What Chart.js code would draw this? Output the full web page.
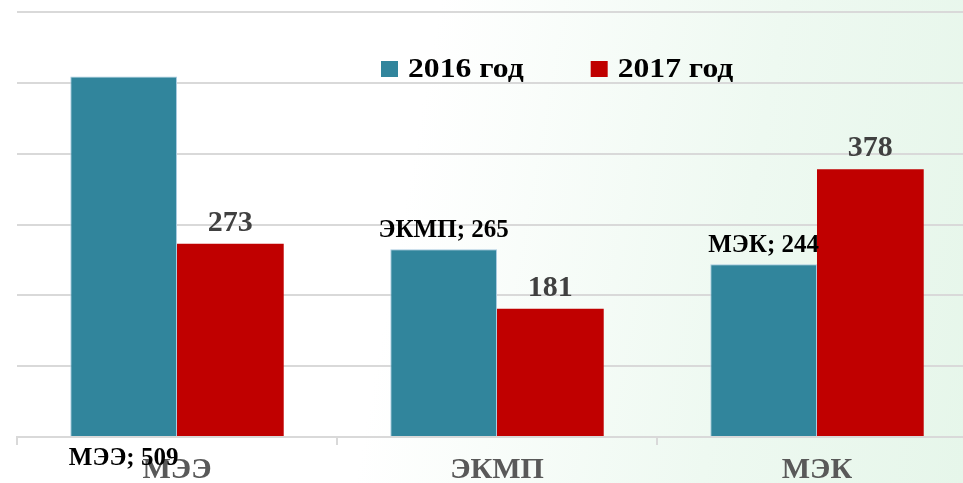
<!DOCTYPE html>
<html lang="ru">
<head>
<meta charset="utf-8">
<title>Экспертизы 2016–2017</title>
<script src="https://cdn.jsdelivr.net/npm/chart.js@4.4.1/dist/chart.umd.min.js"></script>
<style>
  html, body { margin: 0; padding: 0; overflow: hidden; }
  body {
    width: 963px; height: 483px;
    background: linear-gradient(100deg, #ffffff 0%, #ffffff 42%, #eef9f1 75%, #e6f6ea 100%);
  }
  #wrap { position: relative; width: 980px; height: 483px; }
</style>
</head>
<body>
<div id="wrap"><canvas id="myChart"></canvas></div>
<script>
const categories = ['МЭЭ', 'ЭКМП', 'МЭК'];
const seriesNames = ['2016 год', '2017 год'];
const values2016 = [509, 265, 244];
const values2017 = [273, 181, 378];
const yMax = 600;
const yStep = 100;

const serif = '"Liberation Serif", "Times New Roman", serif';

// подписи значений
const barLabels = {
  id: 'barLabels',
  afterDatasetsDraw(chart) {
    const c = chart.ctx;
    const bottom = chart.scales.y.getPixelForValue(0);
    c.save();
    c.textAlign = 'center';
    c.textBaseline = 'alphabetic';
    chart.getDatasetMeta(0).data.forEach((bar, i) => {
      c.font = 'bold 25px ' + serif;
      c.fillStyle = '#000000';
      let y = bar.y - 12;
      if (i === 0) y = bottom + 28; // в оригинале подпись МЭЭ съехала под ось
      c.fillText(categories[i] + '; ' + values2016[i], bar.x, y);
    });
    chart.getDatasetMeta(1).data.forEach((bar, i) => {
      c.font = 'bold 30px ' + serif;
      c.fillStyle = '#404040';
      c.fillText(values2017[i], bar.x, bar.y - 13);
    });
    c.restore();
  }
};

// легенда внутри области графика (шрифт в оригинале чуть растянут)
const topLegend = {
  id: 'topLegend',
  afterDraw(chart) {
    const c = chart.ctx;
    const area = chart.chartArea;
    const stretch = 1.13;
    let x = area.left + 364;
    const y = area.top + 65;
    c.save();
    c.font = 'bold 28px ' + serif;
    c.textBaseline = 'alphabetic';
    chart.data.datasets.forEach(ds => {
      c.fillStyle = ds.backgroundColor;
      c.fillRect(x, y - 16, 17, 16);
      c.save();
      c.translate(x + 27, y);
      c.scale(stretch, 1);
      c.fillStyle = '#000000';
      c.fillText(ds.label, 0, 0);
      c.restore();
      x += 27 + c.measureText(ds.label).width * stretch + 67;
    });
    c.restore();
  }
};

const ctx = document.getElementById('myChart');

new Chart(ctx, {
  type: 'bar',
  data: {
    labels: categories,
    datasets: [{
      label: seriesNames[0],
      data: values2016,
      backgroundColor: '#31859c',
      borderColor: '#a9cbe0',
      borderWidth: 1,
      categoryPercentage: 0.667,
      barPercentage: 1.0
    }, {
      label: seriesNames[1],
      data: values2017,
      backgroundColor: '#c00000',
      borderWidth: 0,
      categoryPercentage: 0.667,
      barPercentage: 1.0
    }]
  },
  options: {
    responsive: true,
    maintainAspectRatio: false,
    animation: false,
    layout: { padding: { left: 17, top: 12, right: 3, bottom: 0 } },
    plugins: {
      legend: { display: false },
      tooltip: { enabled: false }
    },
    scales: {
      x: {
        grid: { drawOnChartArea: false, color: '#d9d9d9', lineWidth: 2, tickLength: 8 },
        border: { color: '#d9d9d9', width: 2 },
        ticks: {
          color: '#595959',
          padding: 7,
          font: { family: serif, size: 30, weight: 'bold' }
        },
        afterFit(scale) { scale.height = 46; }
      },
      y: {
        min: 0,
        max: yMax,
        ticks: { display: false, stepSize: yStep },
        grid: { color: '#d9d9d9', lineWidth: 2, drawTicks: false },
        border: { display: false }
      }
    }
  },
  plugins: [barLabels, topLegend]
});
</script>
</body>
</html>
